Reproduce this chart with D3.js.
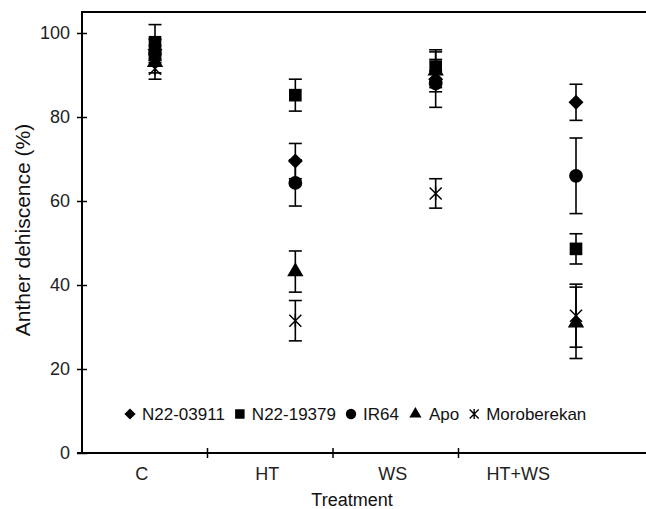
<!DOCTYPE html>
<html><head><meta charset="utf-8">
<script src="https://cdn.jsdelivr.net/npm/d3@7"></script>
<style>body{margin:0;background:#fff}svg{display:block;font-family:"Liberation Sans",Arial,sans-serif}</style>
</head><body><svg id="c" width="646" height="509"></svg>
<script>
const categories = ["C","HT","WS","HT+WS"];
const seriesNames = ["N22-03911","N22-19379","IR64","Apo","Moroberekan"];
const seriesShapes = ["diamond","square","circle","triangle","star"];
const meanN2203911 = [96, 69.5, 89, 83.5];
const errN2203911  = [2.5, 4.2, 2, 4.3];
const meanN2219379 = [97.8, 85.2, 92, 48.6];
const errN2219379  = [4.2, 3.8, 3.5, 3.6];
const meanIR64 = [95, 64.3, 88, 66];
const errIR64  = [2, 5.5, 5.7, 9];
const meanApo = [93, 43.2, 91, 31];
const errApo  = [2.5, 4.9, 5, 8.5];
const meanMoro = [91.5, 31.5, 61.8, 32.7];
const errMoro  = [2.5, 4.8, 3.5, 7.5];
const yTicks = [0,20,40,60,80,100];

const means = [meanN2203911, meanN2219379, meanIR64, meanApo, meanMoro];
const errs = [errN2203911, errN2219379, errIR64, errApo, errMoro];

const svg = d3.select("#c");
const y = d3.scaleLinear().domain([0,105]).range([453,12]);
const xBand = d3.scaleBand().domain(categories).range([82,584]);
const xPt = d3.scalePoint().domain(categories).range([155,576]);

function shapePath(shape, s){
  const k = s||1;
  if(shape==="diamond") return d3.symbol(d3.symbolSquare, 112*k*k)();
  if(shape==="square") return d3.symbol(d3.symbolSquare, 160*k*k)();
  if(shape==="circle") return d3.symbol(d3.symbolCircle, 150*k*k)();
  if(shape==="triangle") return d3.symbol(d3.symbolTriangle, 115*k*k)();
  const h = 6*k;
  return `M${-h},${-h}L${h},${h}M${h},${-h}L${-h},${h}M0,${-h*1.1}L0,${h*1.1}`;
}

// axes
const gy = svg.append("g").attr("transform","translate(82,0)")
  .call(d3.axisLeft(y).tickValues(yTicks).tickSize(5).tickPadding(7));
gy.select(".domain").remove();
gy.selectAll(".tick line").attr("x1",5).attr("stroke","#000").attr("stroke-width",1.5);
gy.selectAll(".tick text").attr("font-size",18).attr("fill","#222").attr("font-family","Liberation Sans, Arial, sans-serif");

svg.append("line").attr("x1",82).attr("x2",82).attr("y1",y(105)).attr("y2",y(0)).attr("stroke","#000").attr("stroke-width",2);
svg.append("line").attr("x1",81).attr("x2",646).attr("y1",y(105)).attr("y2",y(105)).attr("stroke","#000").attr("stroke-width",2.2);
svg.append("line").attr("x1",77).attr("x2",646).attr("y1",y(0)).attr("y2",y(0)).attr("stroke","#000").attr("stroke-width",2);

const gx = svg.append("g");
gx.selectAll("line.bt").data(categories.slice(1)).join("line")
  .attr("x1",d=>xBand(d)).attr("x2",d=>xBand(d))
  .attr("y1",y(0)-5).attr("y2",y(0)+5).attr("stroke","#000").attr("stroke-width",1.5);
gx.selectAll("text").data(categories).join("text")
  .attr("x",d=>xBand(d)+xBand.bandwidth()/2-3).attr("y",480)
  .attr("text-anchor","middle").attr("font-size",18).attr("fill","#222").text(d=>d);

svg.append("text").attr("x",352).attr("y",506).attr("text-anchor","middle")
  .attr("font-size",18).attr("fill","#111").text("Treatment");
svg.append("text").attr("transform","translate(30,230) rotate(-90)").attr("text-anchor","middle")
  .attr("font-size",21).attr("fill","#111").text("Anther dehiscence (%)");

// data
const pts = [];
means.forEach((m,si)=>m.forEach((v,ci)=>pts.push({si,cat:categories[ci],v,e:errs[si][ci],shape:seriesShapes[si]})));

const eb = svg.append("g").attr("stroke","#000").attr("stroke-width",1.6);
pts.forEach(p=>{
  const cx = xPt(p.cat);
  eb.append("line").attr("x1",cx).attr("x2",cx).attr("y1",y(p.v+p.e)).attr("y2",y(p.v-p.e));
  [p.v+p.e, p.v-p.e].forEach(t=>eb.append("line").attr("x1",cx-6.5).attr("x2",cx+6.5).attr("y1",y(t)).attr("y2",y(t)));
});
svg.append("g").selectAll("path").data(pts).join("path")
  .attr("d",p=>shapePath(p.shape))
  .attr("transform",p=>`translate(${xPt(p.cat)},${y(p.v)})${p.shape==="diamond"?" rotate(45)":""}`)
  .attr("fill",p=>p.shape==="star"?"none":"#000")
  .attr("stroke","#000").attr("stroke-width",p=>p.shape==="star"?1.5:0);

// legend
const lg = svg.append("g");
let lx = 125;
const ly = 414;
seriesNames.forEach((name,i)=>{
  const shape = seriesShapes[i];
  const w = shape==="triangle"?13:10;
  lg.append("path").attr("d",shapePath(shape,0.75))
    .attr("transform",`translate(${lx+w/2},${ly})${shape==="diamond"?" rotate(45)":""}`)
    .attr("fill",shape==="star"?"none":"#000").attr("stroke","#000").attr("stroke-width",shape==="star"?1.4:0);
  const t = lg.append("text").attr("x",lx+w+7).attr("y",ly+6).attr("font-size",17).attr("fill","#111").text(name);
  lx = lx + w + 7 + t.node().getComputedTextLength() + 10;
});
</script></body></html>
